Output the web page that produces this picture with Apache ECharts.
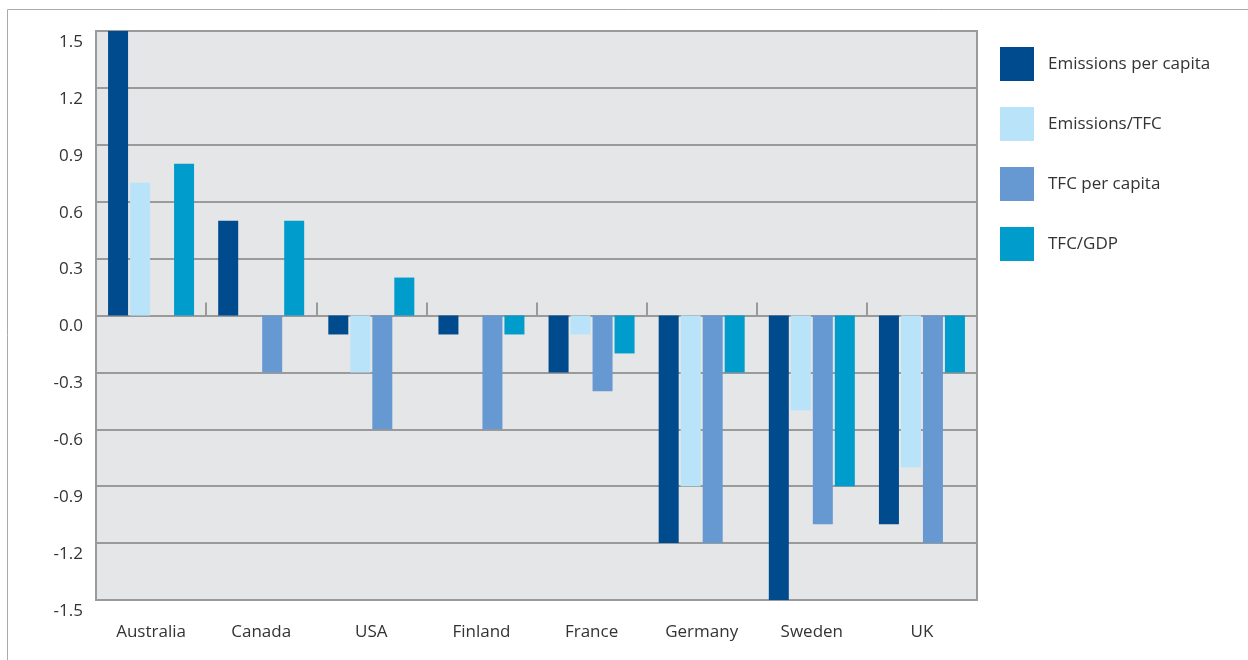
<!DOCTYPE html>
<html>
<head>
<meta charset="utf-8">
<script src="https://cdn.jsdelivr.net/npm/echarts@6/dist/echarts.min.js"></script>
<style>
html,body{margin:0;padding:0;background:#fff;}
#chart{width:1248px;height:660px;}
</style>
</head>
<body>
<div id="chart"></div>
<script>
// categories and series
var countries = ['Australia', 'Canada', 'USA', 'Finland', 'France', 'Germany', 'Sweden', 'UK'];
var emissionsPerCapita = [1.5, 0.5, -0.1, -0.1, -0.3, -1.2, -1.5, -1.1];
var emissionsTfc = [0.7, 0, -0.3, 0, -0.1, -0.9, -0.5, -0.8];
var tfcPerCapita = [0, -0.3, -0.6, -0.6, -0.4, -1.2, -1.1, -1.2];
var tfcGdp = [0.8, 0.5, 0.2, -0.1, -0.2, -0.3, -0.9, -0.3];
var seriesNames = ['Emissions per capita', 'Emissions/TFC', 'TFC per capita', 'TFC/GDP'];
var seriesColors = ['#004b8d', '#b9e3f8', '#6699d2', '#009ccb'];

var font = '"Open Sans", "Noto Sans", sans-serif';
var chart = echarts.init(document.getElementById('chart'));

var seriesData = [emissionsPerCapita, emissionsTfc, tfcPerCapita, tfcGdp];
var series = seriesData.map(function (d, i) {
  return {
    name: seriesNames[i],
    type: 'bar',
    xAxisIndex: 0,
    data: d,
    barWidth: 20,
    barGap: '10%',
    itemStyle: {color: seriesColors[i]}
  };
});

var options = {
  animation: false,
  textStyle: {fontFamily: font},
  graphic: [{
    type: 'rect',
    shape: {x: 7.5, y: 9.5, width: 1300, height: 700},
    style: {fill: 'none', stroke: '#aaaaaa', lineWidth: 1},
    silent: true
  }],
  legend: {
    orient: 'vertical',
    left: 1000,
    top: 47,
    padding: 0,
    itemWidth: 34,
    itemHeight: 34,
    itemGap: 26,
    icon: 'rect',
    data: seriesNames,
    textStyle: {fontFamily: font, fontSize: 17, color: '#333', padding: [0, 0, 0, 9]}
  },
  grid: {
    left: 96,
    right: 271,
    top: 31,
    bottom: 60,
    show: true,
    backgroundColor: '#e5e6e8',
    borderColor: '#9a9a9a',
    borderWidth: 2
  },
  xAxis: [{
    type: 'category',
    data: countries,
    position: 'bottom',
    axisLine: {onZero: true, lineStyle: {color: '#9a9a9a', width: 2}},
    axisTick: {show: true, inside: true, length: 13, lineStyle: {color: '#9a9a9a', width: 2}},
    axisLabel: {show: false}
  }, {
    type: 'category',
    data: countries,
    position: 'bottom',
    axisLine: {show: false, onZero: false},
    axisTick: {show: false},
    axisLabel: {fontFamily: font, fontSize: 17, color: '#333', margin: 24}
  }],
  yAxis: {
    type: 'value',
    min: -1.5,
    max: 1.5,
    interval: 0.3,
    axisLine: {show: true, lineStyle: {color: '#9a9a9a', width: 2}},
    axisTick: {show: false},
    axisLabel: {
      fontFamily: font, fontSize: 17, color: '#333', margin: 13,
      verticalAlign: 'top',
      lineHeight: 22,
      formatter: function (v) { return v.toFixed(1); }
    },
    splitLine: {lineStyle: {color: '#9a9a9a', width: 2}}
  },
  series: series
};
chart.setOption(options, true);
</script>
</body>
</html>
